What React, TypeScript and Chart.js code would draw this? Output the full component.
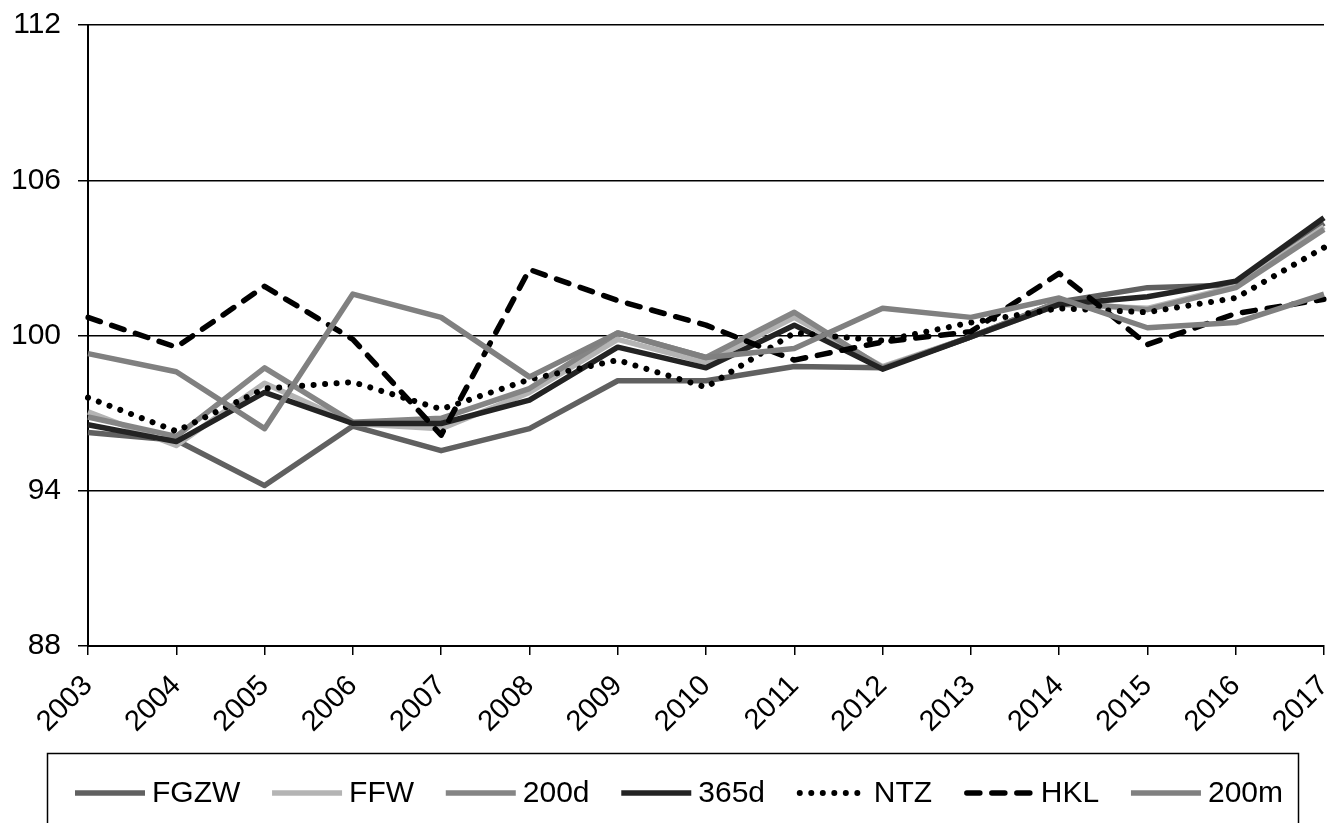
import React, { useEffect, useRef } from "react";
import { Chart, registerables } from "chart.js";

Chart.register(...registerables);

const years = ["2003", "2004", "2005", "2006", "2007", "2008", "2009", "2010", "2011", "2012", "2013", "2014", "2015", "2016", "2017"];

const fgzw = [96.25, 95.95, 94.2, 96.5, 95.55, 96.4, 98.25, 98.25, 98.8, 98.75, 99.95, 101.3, 101.85, 101.95, 104.35];
const ffw = [97.05, 95.75, 98.15, 96.6, 96.4, 97.8, 99.85, 98.95, 100.7, 98.8, 99.95, 101.2, 101.05, 101.9, 104.2];
const d200 = [96.85, 96.1, 98.75, 96.65, 96.8, 97.95, 100.1, 99.15, 100.9, 98.75, 99.95, 101.3, 101.0, 101.85, 104.1];
const d365 = [96.55, 95.9, 97.8, 96.6, 96.6, 97.5, 99.55, 98.75, 100.4, 98.7, 99.95, 101.2, 101.5, 102.1, 104.55];
const ntz = [97.6, 96.3, 97.95, 98.2, 97.15, 98.3, 99.05, 98.0, 100.1, 99.8, 100.5, 101.05, 100.9, 101.45, 103.4];
const hkl = [100.7, 99.55, 101.9, 99.85, 96.15, 102.55, 101.35, 100.4, 99.05, 99.75, 100.15, 102.4, 99.65, 100.85, 101.4];
const m200 = [99.3, 98.6, 96.4, 101.6, 100.7, 98.4, 100.1, 99.15, 99.5, 101.05, 100.7, 101.45, 100.3, 100.5, 101.6];

const yTicks = [88, 94, 100, 106, 112];

const FONT = "'Liberation Sans', Arial, sans-serif";

type Series = { label: string; data: number[]; color: string; width: number; dash: number[]; cap: CanvasLineCap };

const series: Series[] = [
  { label: "FGZW", data: fgzw, color: "#606060", width: 5.5, dash: [], cap: "butt" },
  { label: "FFW", data: ffw, color: "#b4b4b4", width: 5.5, dash: [], cap: "butt" },
  { label: "200d", data: d200, color: "#858585", width: 5.5, dash: [], cap: "butt" },
  { label: "365d", data: d365, color: "#232323", width: 5.5, dash: [], cap: "butt" },
  { label: "NTZ", data: ntz, color: "#000000", width: 6, dash: [0.01, 11.5], cap: "round" },
  { label: "HKL", data: hkl, color: "#000000", width: 5.5, dash: [13, 12], cap: "round" },
  { label: "200m", data: m200, color: "#808080", width: 5.5, dash: [], cap: "butt" },
];

export default function App() {
  const ref = useRef<HTMLCanvasElement>(null);

  useEffect(() => {
    document.body.style.margin = "0";
    const canvas = ref.current!;

    const boxLegend = {
      id: "boxLegend",
      afterDraw(chart: any) {
        const c: CanvasRenderingContext2D = chart.ctx;
        c.save();
        c.strokeStyle = "#000";
        c.lineWidth = 1.5;
        c.strokeRect(47.5, 753.5, 1251, 140);
        c.font = `30px ${FONT}`;
        c.textBaseline = "middle";
        c.textAlign = "left";
        const sampleW = 70;
        const textGap = 7;
        const startX = 75;
        const endX = 1283;
        const widths = series.map((s) => c.measureText(s.label).width);
        const total = widths.reduce((a, b) => a + b, 0) + series.length * (sampleW + textGap);
        const gap = (endX - startX - total) / (series.length - 1);
        let x = startX;
        const y = 793;
        series.forEach((s, i) => {
          c.beginPath();
          c.strokeStyle = s.color;
          c.lineWidth = s.width;
          c.lineCap = s.cap;
          c.setLineDash(s.dash);
          c.moveTo(x + (s.cap === "round" ? 3 : 0), y);
          c.lineTo(x + sampleW, y);
          c.stroke();
          c.setLineDash([]);
          c.fillStyle = "#000";
          c.fillText(s.label, x + sampleW + textGap, y + 1);
          x += sampleW + textGap + widths[i] + gap;
        });
        c.restore();
      },
    };

    const chart = new Chart(canvas, {
      type: "line",
      data: {
        labels: years,
        datasets: series.map((s, i) => ({
          label: s.label,
          data: s.data,
          borderColor: s.color,
          backgroundColor: s.color,
          borderWidth: s.width,
          borderDash: s.dash,
          borderCapStyle: s.cap,
          borderJoinStyle: "round",
          pointRadius: 0,
          tension: 0,
          fill: false,
          order: series.length - 1 - i,
        })),
      },
      options: {
        responsive: false,
        devicePixelRatio: 1,
        animation: false,
        layout: { padding: { left: 0, right: 15, top: 25, bottom: 0 } },
        plugins: { legend: { display: false }, tooltip: { enabled: false } },
        scales: {
          x: {
            type: "category",
            offset: false,
            grid: { display: true, drawOnChartArea: false, drawTicks: true, tickLength: 9, color: "#000", lineWidth: 1.5 },
            border: { display: true, color: "#000", width: 2 },
            ticks: { minRotation: 45, maxRotation: 45, autoSkip: false, color: "#000", font: { family: FONT, size: 29 }, padding: 14 },
            afterFit: (s: any) => {
              s.height = 177;
              s.paddingLeft = 0;
              s.paddingRight = 0;
              s.paddingTop = 0;
              s.paddingBottom = 0;
            },
          },
          y: {
            min: 88,
            max: 112,
            afterBuildTicks: (s: any) => {
              s.ticks = yTicks.map((v) => ({ value: v }));
            },
            grid: { color: "#000", lineWidth: 1.5, tickLength: 10, drawTicks: true },
            border: { display: true, color: "#000", width: 2 },
            ticks: { color: "#000", font: { family: FONT, size: 30 }, padding: 17 },
            afterFit: (s: any) => {
              s.width = 88;
              s.paddingTop = 0;
              s.paddingBottom = 0;
              s.paddingLeft = 0;
              s.paddingRight = 0;
            },
          },
        },
      },
      plugins: [boxLegend],
    } as any);

    return () => chart.destroy();
  }, []);

  return (
    <div style={{ position: "absolute", left: 0, top: 0, width: 1339, height: 823, background: "#fff" }}>
      <canvas ref={ref} width={1339} height={823} style={{ display: "block" }} />
    </div>
  );
}
